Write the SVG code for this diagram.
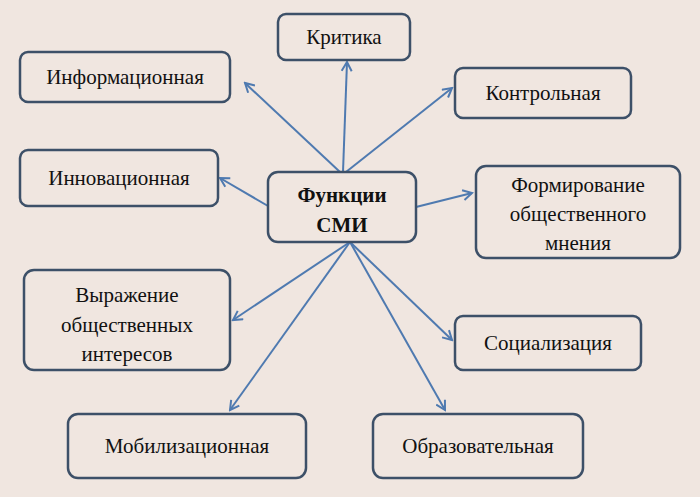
<svg xmlns="http://www.w3.org/2000/svg" width="700" height="497" viewBox="0 0 700 497">
<style>
.b{fill:#f0e6e0;stroke:#3d5068;stroke-width:2.5}
.t{font-family:"Liberation Serif",serif;font-size:21px;fill:#111;text-anchor:middle}
.c{stroke:#4f7ab0;stroke-width:2;fill:none;marker-end:url(#a)}
</style>
<defs><marker id="a" markerWidth="12" markerHeight="12" refX="10" refY="6" orient="auto" markerUnits="userSpaceOnUse"><path d="M1,1 L10,6 L1,11" fill="none" stroke="#4f7ab0" stroke-width="2"/></marker></defs>
<rect width="700" height="497" fill="#f0e6e0"/>
<g id="connectors">
<line class="c" x1="343" y1="172" x2="347" y2="62"/>
<line class="c" x1="340" y1="172" x2="245" y2="83"/>
<line class="c" x1="346" y1="172" x2="452" y2="88"/>
<line class="c" x1="268" y1="206" x2="220" y2="178"/>
<line class="c" x1="416" y1="207" x2="472" y2="193"/>
<line class="c" x1="350" y1="242" x2="233" y2="320"/>
<line class="c" x1="350" y1="242" x2="230" y2="410"/>
<line class="c" x1="350" y1="242" x2="445" y2="410"/>
<line class="c" x1="350" y1="242" x2="452" y2="340"/>
</g>
<g id="center"><rect class="b" x="268" y="172" width="148" height="70" rx="10"/><text class="t" x="342" y="202" font-weight="bold" font-size="24">Функции</text><text class="t" x="342" y="232" font-weight="bold" font-size="24">СМИ</text></g>
<g id="kritika"><rect class="b" x="278" y="14" width="132" height="46" rx="8"/><text class="t" x="344" y="44">Критика</text></g>
<g id="inform"><rect class="b" x="20" y="52" width="210" height="50" rx="8"/><text class="t" x="125" y="84">Информационная</text></g>
<g id="kontrol"><rect class="b" x="455" y="68" width="176" height="50" rx="8"/><text class="t" x="543" y="100">Контрольная</text></g>
<g id="innov"><rect class="b" x="20" y="150" width="198" height="56" rx="8"/><text class="t" x="119" y="185">Инновационная</text></g>
<g id="formir"><rect class="b" x="476" y="166" width="204" height="92" rx="10"/><text class="t" x="578" y="192">Формирование</text><text class="t" x="578" y="221">общественного</text><text class="t" x="578" y="250">мнения</text></g>
<g id="vyrazh"><rect class="b" x="24" y="270" width="206" height="100" rx="10"/><text class="t" x="127" y="302">Выражение</text><text class="t" x="127" y="332">общественных</text><text class="t" x="127" y="361">интересов</text></g>
<g id="social"><rect class="b" x="455" y="316" width="186" height="54" rx="8"/><text class="t" x="548" y="350">Социализация</text></g>
<g id="mobil"><rect class="b" x="68" y="414" width="238" height="64" rx="10"/><text class="t" x="187" y="453">Мобилизационная</text></g>
<g id="obraz"><rect class="b" x="373" y="414" width="210" height="64" rx="10"/><text class="t" x="478" y="453">Образовательная</text></g>
</svg>
